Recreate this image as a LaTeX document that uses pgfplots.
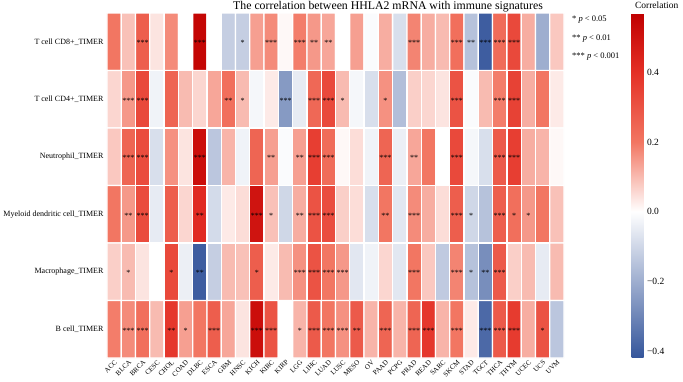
\documentclass[border=0pt]{standalone}
\usepackage{fontspec}
\setmainfont{Liberation Serif}
\usepackage{pgfplots}
\pgfplotsset{compat=1.18}
\begin{document}
\begin{tikzpicture}
\useasboundingbox (-107pt,13pt) rectangle (576pt,-369pt);
\begin{axis}[name=ax, at={(0,0)}, anchor=north west, scale only axis,
  width=457pt, height=345pt,
  xmin=-0.5, xmax=31.5, ymin=-0.5, ymax=5.5, y dir=reverse,
  axis line style={draw=none}, tick style={draw=none},
  clip=false,
  /pgf/number format/assume math mode=true,
  xtick={0,...,31},
  xticklabels={ACC,BLCA,BRCA,CESC,CHOL,COAD,DLBC,ESCA,GBM,HNSC,KICH,KIRC,KIRP,LGG,LIHC,LUAD,LUSC,MESO,OV,PAAD,PCPG,PRAD,READ,SARC,SKCM,STAD,TGCT,THCA,THYM,UCEC,UCS,UVM},
  ytick={0,...,5},
  yticklabels={T cell CD8+\_TIMER,T cell CD4+\_TIMER,Neutrophil\_TIMER,Myeloid dendritic cell\_TIMER,Macrophage\_TIMER,B cell\_TIMER},
  xticklabel style={rotate=45, anchor=north east, font=\fontsize{7}{7}\selectfont, inner sep=1pt},
  yticklabel style={font=\fontsize{8}{9}\selectfont},
  colormap={corr}{rgb255(0cm)=(52,85,155); rgb255(42cm)=(255,255,255); rgb255(62cm)=(242,118,98); rgb255(82cm)=(228,48,38); rgb255(99cm)=(192,0,0)},
  point meta min=-0.42, point meta max=0.57,
  title={The correlation between HHLA2 mRNA with immune signatures},
  title style={at={(0.615,1)}, anchor=base, yshift=-2pt, font=\fontsize{11.8}{12}\selectfont},
  colorbar,
  colorbar style={
    at={(parent axis.north east)}, anchor=north west, xshift=59pt,
    width=12pt,
    ytick={-0.4,-0.2,0,0.2,0.4},
    yticklabels={−0.4,−0.2,0.0,0.2,0.4},
    yticklabel style={font=\fontsize{9.5}{10}\selectfont},
    axis line style={draw=none},
    axis on top,
    ytick pos=both, yticklabel pos=right,
    tick align=inside, major tick length=2.5pt,
    ytick style={white, line width=0.8pt},
    title=Correlation,
    title style={at={(0,1)}, anchor=base west, yshift=-2pt, font=\fontsize{9.5}{10}\selectfont},
  },
]
\addplot[matrix plot*, point meta=explicit, mesh/cols=32, shader=faceted, faceted color=white, line width=1.3pt] coordinates {
(0,0)[0.20] (1,0)[0.09] (2,0)[0.27] (3,0)[0.04] (4,0)[0.17] (5,0)[0.00] (6,0)[0.55] (7,0)[0.00]
(8,0)[-0.12] (9,0)[-0.12] (10,0)[0.14] (11,0)[0.17] (12,0)[0.01] (13,0)[0.19] (14,0)[0.15] (15,0)[0.13]
(16,0)[0.00] (17,0)[0.14] (18,0)[-0.01] (19,0)[0.12] (20,0)[-0.08] (21,0)[0.18] (22,0)[0.12] (23,0)[0.10]
(24,0)[0.22] (25,0)[-0.15] (26,0)[-0.40] (27,0)[0.23] (28,0)[0.33] (29,0)[0.12] (30,0)[-0.20] (31,0)[0.08]

(0,1)[0.06] (1,1)[0.15] (2,1)[0.33] (3,1)[-0.03] (4,1)[0.25] (5,1)[0.10] (6,1)[0.06] (7,1)[0.13]
(8,1)[0.22] (9,1)[0.10] (10,1)[-0.02] (11,1)[0.03] (12,1)[-0.25] (13,1)[-0.05] (14,1)[0.24] (15,1)[0.33]
(16,1)[0.10] (17,1)[-0.02] (18,1)[-0.08] (19,1)[0.16] (20,1)[-0.16] (21,1)[0.07] (22,1)[0.06] (23,1)[0.04]
(24,1)[0.30] (25,1)[-0.01] (26,1)[0.10] (27,1)[0.19] (28,1)[0.35] (29,1)[0.12] (30,1)[0.20] (31,1)[0.03]

(0,2)[0.08] (1,2)[0.25] (2,2)[0.32] (3,2)[-0.08] (4,2)[0.16] (5,2)[0.04] (6,2)[0.52] (7,2)[-0.14]
(8,2)[0.11] (9,2)[-0.03] (10,2)[0.25] (11,2)[0.14] (12,2)[-0.01] (13,2)[0.14] (14,2)[0.36] (15,2)[0.23]
(16,2)[0.01] (17,2)[0.05] (18,2)[-0.03] (19,2)[0.25] (20,2)[-0.04] (21,2)[0.13] (22,2)[0.20] (23,2)[0.00]
(24,2)[0.33] (25,2)[-0.02] (26,2)[-0.08] (27,2)[0.28] (28,2)[0.36] (29,2)[0.12] (30,2)[0.11] (31,2)[0.01]

(0,3)[0.20] (1,3)[0.15] (2,3)[0.32] (3,3)[-0.05] (4,3)[0.27] (5,3)[0.06] (6,3)[0.42] (7,3)[-0.09]
(8,3)[0.03] (9,3)[0.05] (10,3)[0.50] (11,3)[0.09] (12,3)[-0.10] (13,3)[0.12] (14,3)[0.30] (15,3)[0.32]
(16,3)[0.07] (17,3)[0.05] (18,3)[-0.08] (19,3)[0.20] (20,3)[-0.06] (21,3)[0.17] (22,3)[0.12] (23,3)[0.05]
(24,3)[0.27] (25,3)[-0.10] (26,3)[-0.15] (27,3)[0.27] (28,3)[0.22] (29,3)[0.15] (30,3)[0.20] (31,3)[0.09]

(0,4)[0.07] (1,4)[0.10] (2,4)[0.04] (3,4)[0.00] (4,4)[0.33] (5,4)[-0.04] (6,4)[-0.40] (7,4)[-0.12]
(8,4)[0.10] (9,4)[0.09] (10,4)[0.27] (11,4)[0.03] (12,4)[0.10] (13,4)[0.16] (14,4)[0.30] (15,4)[0.20]
(16,4)[0.15] (17,4)[-0.06] (18,4)[-0.03] (19,4)[0.06] (20,4)[-0.06] (21,4)[0.20] (22,4)[0.08] (23,4)[-0.13]
(24,4)[0.18] (25,4)[-0.15] (26,4)[-0.28] (27,4)[0.28] (28,4)[0.07] (29,4)[0.10] (30,4)[-0.05] (31,4)[0.10]

(0,5)[0.19] (1,5)[0.17] (2,5)[0.22] (3,5)[0.10] (4,5)[0.38] (5,5)[0.14] (6,5)[0.20] (7,5)[0.27]
(8,5)[0.13] (9,5)[0.04] (10,5)[0.52] (11,5)[0.30] (12,5)[0.00] (13,5)[0.11] (14,5)[0.28] (15,5)[0.20]
(16,5)[0.16] (17,5)[0.28] (18,5)[0.11] (19,5)[0.25] (20,5)[0.11] (21,5)[0.25] (22,5)[0.38] (23,5)[0.11]
(24,5)[0.20] (25,5)[0.03] (26,5)[-0.37] (27,5)[0.28] (28,5)[0.37] (29,5)[0.12] (30,5)[0.30] (31,5)[-0.14]
};
\addplot[only marks, mark=none, point meta=explicit symbolic, nodes near coords,
  every node near coord/.append style={anchor=center, yshift=-1.5pt, inner sep=0pt, font=\fontsize{8}{8}\selectfont}]
  table[meta=s] {
x y s
2 0 ***
6 0 ***
9 0 *
11 0 ***
13 0 ***
14 0 **
15 0 **
21 0 ***
24 0 ***
25 0 **
26 0 ***
27 0 ***
28 0 ***
1 1 ***
2 1 ***
8 1 **
9 1 *
12 1 ***
14 1 ***
15 1 ***
16 1 *
19 1 *
24 1 ***
27 1 ***
28 1 ***
1 2 ***
2 2 ***
6 2 ***
11 2 **
13 2 **
14 2 ***
15 2 ***
19 2 ***
21 2 **
24 2 ***
27 2 ***
28 2 ***
1 3 **
2 3 ***
6 3 **
10 3 ***
11 3 *
13 3 **
14 3 ***
15 3 ***
19 3 **
21 3 ***
24 3 ***
25 3 *
27 3 ***
28 3 *
29 3 *
1 4 *
4 4 *
6 4 **
10 4 *
13 4 ***
14 4 ***
15 4 ***
16 4 ***
21 4 ***
24 4 ***
25 4 *
26 4 **
27 4 ***
1 5 ***
2 5 ***
4 5 **
5 5 *
7 5 ***
10 5 ***
11 5 ***
13 5 *
14 5 ***
15 5 ***
16 5 ***
17 5 **
19 5 ***
21 5 ***
22 5 ***
24 5 ***
26 5 ***
27 5 ***
28 5 ***
30 5 *
};
\end{axis}
\begin{scope}[every node/.style={anchor=base west, inner sep=0pt, font=\fontsize{8.5}{9}\selectfont}]
\node at ([xshift=8pt,yshift=-9pt]ax.north east) {* \textit{p} < 0.05};
\node at ([xshift=8pt,yshift=-28pt]ax.north east) {** \textit{p} < 0.01};
\node at ([xshift=8pt,yshift=-46pt]ax.north east) {*** \textit{p} < 0.001};
\end{scope}
\end{tikzpicture}
\end{document}
